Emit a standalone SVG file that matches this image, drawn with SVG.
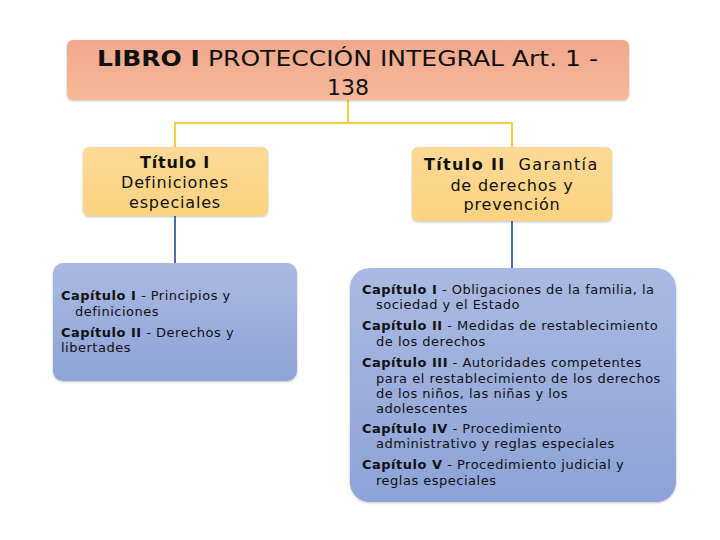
<svg xmlns="http://www.w3.org/2000/svg" width="720" height="540" viewBox="0 0 720 540">
<defs>
<linearGradient id="gTop" x1="0" y1="0" x2="0" y2="1"><stop offset="0" stop-color="#f0a88d"/><stop offset="1" stop-color="#f6b899"/></linearGradient>
<linearGradient id="gGold" x1="0" y1="0" x2="0" y2="1"><stop offset="0" stop-color="#fcd996"/><stop offset="1" stop-color="#fbd27f"/></linearGradient>
<linearGradient id="gBlue" x1="0" y1="0" x2="0" y2="1"><stop offset="0" stop-color="#a9bae2"/><stop offset="1" stop-color="#8da2d7"/></linearGradient>
<filter id="sh" x="-10%" y="-10%" width="120%" height="130%"><feDropShadow dx="0" dy="1" stdDeviation="1" flood-color="#000" flood-opacity="0.25"/></filter>
</defs>
<style>
text{font-family:"DejaVu Sans",Verdana,sans-serif;fill:#111;white-space:pre}
.t{font-size:22px}
.h{font-size:16px;text-anchor:middle;letter-spacing:0.8px}
.c{font-size:13px;letter-spacing:0.5px}
.b{font-weight:bold}
.y{stroke:#f2cf3c;stroke-width:2;fill:none}
.bl{stroke:#4a6fa8;stroke-width:2;fill:none}
</style>
<rect width="720" height="540" fill="#fff"/>
<g id="connectors">
<path class="y" d="M348 100V123M175 147V123H512V147"/>
<path class="bl" d="M175 216V263M512 221V268"/>
</g>
<g id="libro">
<rect x="67" y="40" width="562" height="60" rx="6" fill="url(#gTop)" filter="url(#sh)"/>
<text class="t" x="97" y="66" textLength="501" lengthAdjust="spacingAndGlyphs"><tspan class="b">LIBRO I</tspan> PROTECCIÓN INTEGRAL Art. 1 -</text>
<text class="t" x="348" y="95" text-anchor="middle">138</text>
</g>
<g id="titulo1">
<rect x="83" y="147" width="185" height="69" rx="6" fill="url(#gGold)" filter="url(#sh)"/>
<text class="h b" x="175" y="168">Título I</text>
<text class="h" x="175" y="188">Definiciones</text>
<text class="h" x="175" y="208">especiales</text>
</g>
<g id="titulo2">
<rect x="412" y="147" width="200" height="74" rx="6" fill="url(#gGold)" filter="url(#sh)"/>
<text class="h" x="424" y="170" style="text-anchor:start" textLength="174" lengthAdjust="spacing"><tspan class="b">Título II</tspan>  Garantía</text>
<text class="h" x="512" y="191">de derechos y</text>
<text class="h" x="512" y="210">prevención</text>
</g>
<g id="capitulos1">
<rect x="53" y="263" width="244" height="118" rx="10" fill="url(#gBlue)" filter="url(#sh)"/>
<text class="c" x="61" y="300"><tspan class="b">Capítulo I</tspan> - Principios y</text>
<text class="c" x="75" y="316">definiciones</text>
<text class="c" x="61" y="337"><tspan class="b">Capítulo II</tspan> - Derechos y</text>
<text class="c" x="61" y="352">libertades</text>
</g>
<g id="capitulos2">
<rect x="350" y="268" width="326" height="234" rx="20" fill="url(#gBlue)" filter="url(#sh)"/>
<text class="c" x="362" y="294"><tspan class="b">Capítulo I</tspan> - Obligaciones de la familia, la</text>
<text class="c" x="376" y="309">sociedad y el Estado</text>
<text class="c" x="362" y="330"><tspan class="b">Capítulo II</tspan> - Medidas de restablecimiento</text>
<text class="c" x="376" y="346">de los derechos</text>
<text class="c" x="362" y="367"><tspan class="b">Capítulo III</tspan> - Autoridades competentes</text>
<text class="c" x="376" y="383">para el restablecimiento de los derechos</text>
<text class="c" x="376" y="398">de los niños, las niñas y los</text>
<text class="c" x="376" y="413">adolescentes</text>
<text class="c" x="362" y="433"><tspan class="b">Capítulo IV</tspan> - Procedimiento</text>
<text class="c" x="376" y="448">administrativo y reglas especiales</text>
<text class="c" x="362" y="469"><tspan class="b">Capítulo V</tspan> - Procedimiento judicial y</text>
<text class="c" x="376" y="485">reglas especiales</text>
</g>
</svg>
